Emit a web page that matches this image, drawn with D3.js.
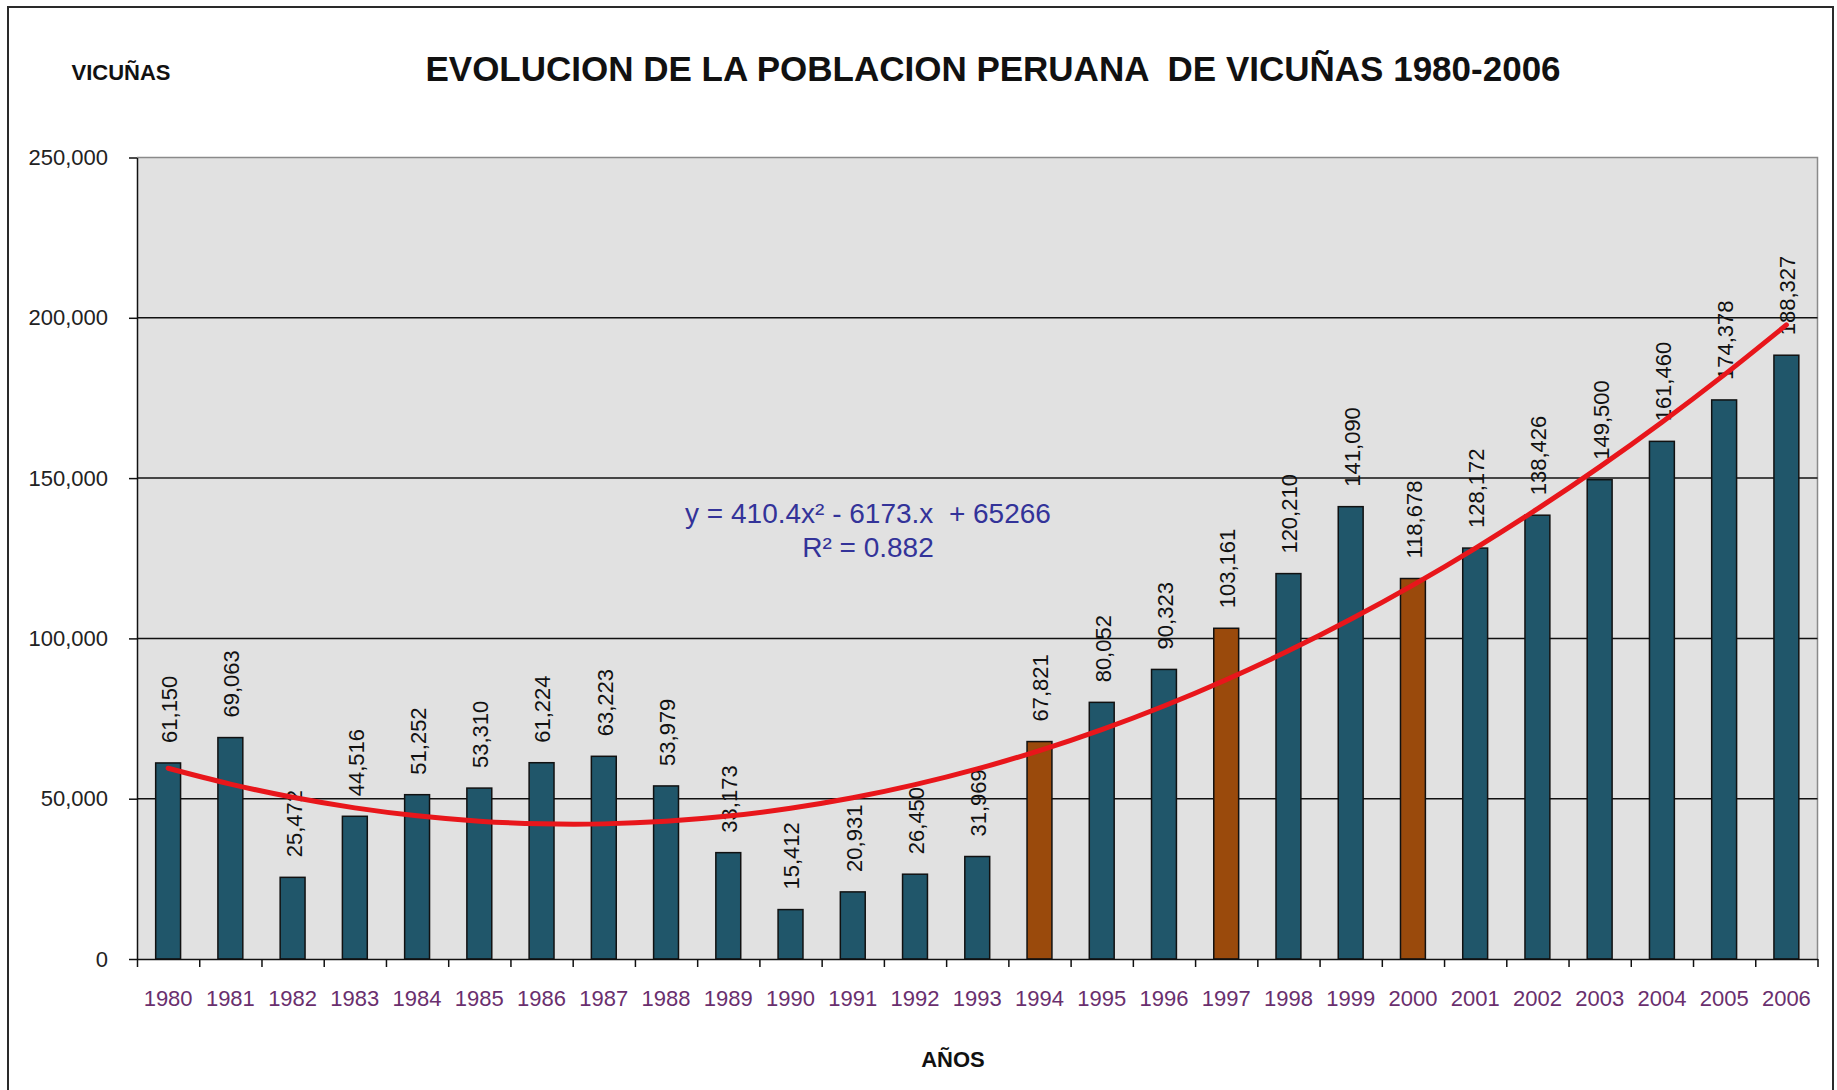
<!DOCTYPE html>
<html>
<head>
<meta charset="utf-8">
<script src="https://cdn.jsdelivr.net/npm/d3@7"></script>
<style>
  body { margin: 0; background: #fff; }
  svg text { font-family: "Liberation Sans", Arial, sans-serif; }
</style>
</head>
<body>
<svg id="chart" width="1837" height="1090"></svg>
<script>
// data
const years = ["1980", "1981", "1982", "1983", "1984", "1985", "1986", "1987", "1988", "1989",
  "1990", "1991", "1992", "1993", "1994", "1995", "1996", "1997", "1998", "1999",
  "2000", "2001", "2002", "2003", "2004", "2005", "2006"];
const population = [61150, 69063, 25472, 44516, 51252, 53310, 61224, 63223, 53979, 33173,
  15412, 20931, 26450, 31969, 67821, 80052, 90323, 103161, 120210, 141090,
  118678, 128172, 138426, 149500, 161460, 174378, 188327];
const censusYears = ["1994", "1997", "2000"];
const yTicks = [0, 50000, 100000, 150000, 200000, 250000];
// polynomial trend shown on the chart: a*x^2 + b*x + c, x = 1..27
const trendCoef = [410.4, -6173, 65266];
const trendText = ["y = 410.4x\u00B2 - 6173.x  + 65266", "R\u00B2 = 0.882"];

let margin = { top: 157.5, right: 19.5, bottom: 131, left: 137 };

const svg = d3.select("#chart");
const width = +svg.attr("width") - margin.left - margin.right;
const height = +svg.attr("height") - margin.top - margin.bottom;

// outer frame
svg.append("rect")
  .attr("x", 8).attr("y", 7)
  .attr("width", 1825).attr("height", 1100)
  .attr("fill", "#fff")
  .attr("stroke", "#2a2a2a")
  .attr("stroke-width", 2);

svg.append("text")
  .attr("x", 121).attr("y", 80)
  .attr("text-anchor", "middle")
  .style("font-size", "22px")
  .style("font-weight", "bold")
  .attr("fill", "#111")
  .text("VICUÑAS");

svg.append("text")
  .attr("x", 993).attr("y", 81)
  .attr("text-anchor", "middle")
  .style("font-size", "35px")
  .style("font-weight", "bold")
  .attr("fill", "#111")
  .attr("xml:space", "preserve")
  .text("EVOLUCION DE LA POBLACION PERUANA  DE VICUÑAS 1980-2006");

svg.append("text")
  .attr("x", 953).attr("y", 1067)
  .attr("text-anchor", "middle")
  .style("font-size", "22px")
  .style("font-weight", "bold")
  .attr("fill", "#111")
  .text("AÑOS");

const g = svg.append("g").attr("transform", `translate(${margin.left}, ${margin.top})`);

const x = d3.scaleBand().domain(years).range([0, width]).paddingInner(0.6).paddingOuter(0.3);
const xEdge = d3.scaleLinear().domain([0, years.length]).range([0, width]);
const y = d3.scaleLinear().domain([0, 250000]).range([height, 0]);

// plot area
g.append("rect")
  .attr("width", width).attr("height", height)
  .attr("fill", "#e1e1e1");

g.append("path")
  .attr("d", `M0,0H${width}V${height}`)
  .attr("fill", "none")
  .attr("stroke", "#8a8a8a")
  .attr("stroke-width", 1.5);

// gridlines
g.append("g")
  .selectAll("line")
  .data(yTicks.filter(d => d > 0 && d < 250000))
  .join("line")
  .attr("x1", 0).attr("x2", width)
  .attr("y1", d => y(d)).attr("y2", d => y(d))
  .attr("stroke", "#111")
  .attr("stroke-width", 1.5);

// bars
g.append("g")
  .selectAll("rect")
  .data(years)
  .join("rect")
  .attr("x", d => x(d))
  .attr("y", (d, i) => y(population[i]))
  .attr("width", x.bandwidth())
  .attr("height", (d, i) => y(0) - y(population[i]))
  .attr("fill", d => censusYears.includes(d) ? "#9a4a0c" : "#20566a")
  .attr("stroke", "#111")
  .attr("stroke-width", 1.5);

// value labels
g.append("g")
  .selectAll("text")
  .data(years)
  .join("text")
  .attr("transform", (d, i) => `translate(${x(d) + x.bandwidth() / 2 + 1}, ${y(population[i]) - 20}) rotate(-90)`)
  .attr("dy", "0.36em")
  .style("font-size", "22px")
  .attr("fill", "#111")
  .text((d, i) => d3.format(",")(population[i]));

// y axis
const yAxis = g.append("g")
  .call(d3.axisLeft(y).tickValues(yTicks).tickSize(8).tickSizeOuter(0).tickPadding(21).tickFormat(d3.format(",")));
yAxis.select(".domain").attr("stroke", "#111").attr("stroke-width", 1.5);
yAxis.selectAll(".tick line").attr("stroke", "#111").attr("stroke-width", 1.5);
yAxis.selectAll("text").style("font-size", "22px").attr("fill", "#222");

// x axis: ticks at category boundaries, labels at centres
const xTicks = g.append("g")
  .attr("transform", `translate(0, ${height})`)
  .call(d3.axisBottom(xEdge).tickValues(d3.range(years.length + 1)).tickSize(8).tickSizeOuter(0).tickFormat(""));
xTicks.select(".domain").attr("stroke", "#111").attr("stroke-width", 1.5);
xTicks.selectAll(".tick line").attr("stroke", "#111").attr("stroke-width", 1.5);

const xAxis = g.append("g")
  .attr("transform", `translate(0, ${height})`)
  .call(d3.axisBottom(x).tickSize(0).tickPadding(31));
xAxis.select(".domain").remove();
xAxis.selectAll("text").style("font-size", "22px").attr("fill", "#6a2f6e");

// trend line
const trend = years.map((d, i) => {
  const t = i + 1;
  return { year: d, value: trendCoef[0] * t * t + trendCoef[1] * t + trendCoef[2] };
});
const line = d3.line()
  .x(d => x(d.year) + x.bandwidth() / 2)
  .y(d => y(d.value))
  .curve(d3.curveCatmullRom);
g.append("path")
  .datum(trend)
  .attr("fill", "none")
  .attr("stroke", "#e8161b")
  .attr("stroke-width", 5)
  .attr("stroke-linecap", "round")
  .attr("d", line);

// trend equation
svg.append("g")
  .selectAll("text")
  .data(trendText)
  .join("text")
  .attr("x", 868)
  .attr("y", (d, i) => 523 + i * 34)
  .attr("text-anchor", "middle")
  .attr("xml:space", "preserve")
  .style("font-size", "28px")
  .attr("fill", "#333399")
  .text(d => d);
</script>
</body>
</html>
